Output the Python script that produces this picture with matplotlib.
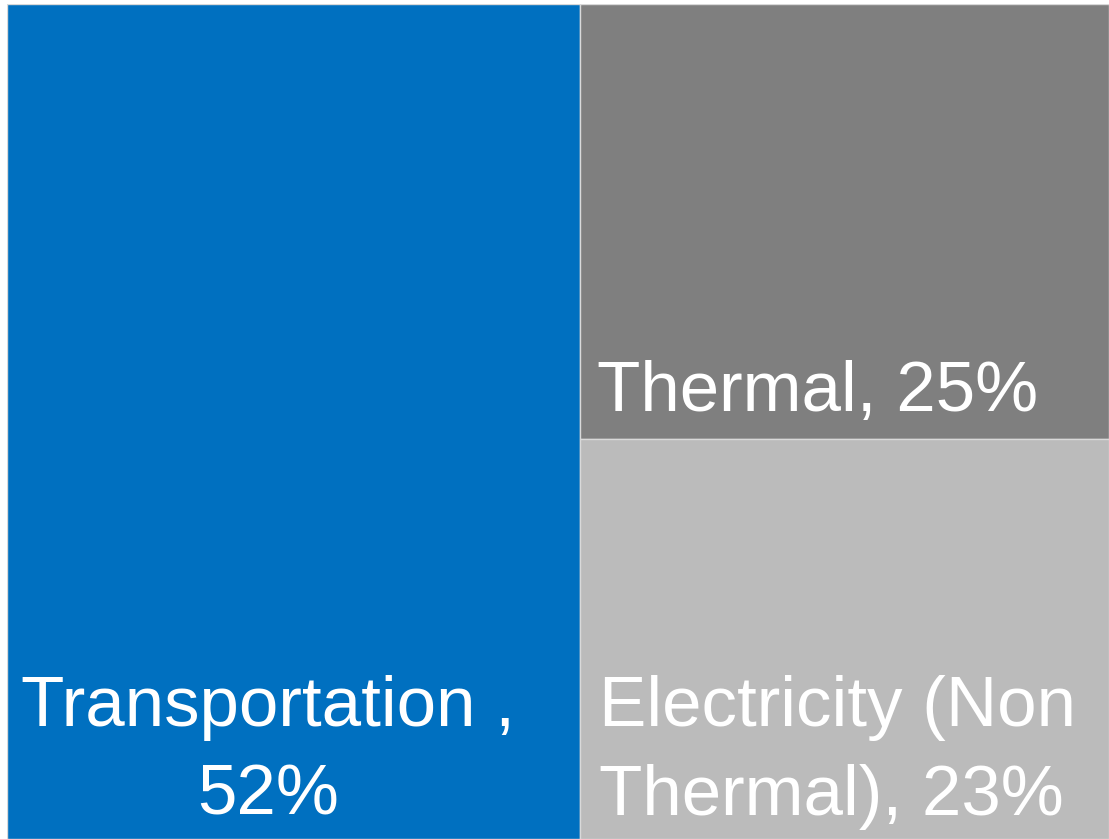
import matplotlib
matplotlib.use("Agg")
import matplotlib.pyplot as plt
from matplotlib.patches import Rectangle

labels = ["Transportation ,\n52%", "Thermal, 25%", "Electricity (Non\nThermal), 23%"]
values = [52, 25, 23]
colors = ["#0070C0", "#7F7F7F", "#BBBBBB"]

fig = plt.figure(figsize=(11.09, 8.39), dpi=100)
ax = fig.add_axes([7 / 1109, 0, 1102 / 1109, 835 / 839])
ax.set_xlim(0, 1)
ax.set_ylim(0, 1)
ax.axis("off")

total = sum(values)
w0 = values[0] / total
rects = [(0, 0, w0, 1)]
rest = values[1] + values[2]
h1 = values[1] / rest
rects.append((w0, 1 - h1, 1 - w0, h1))
rects.append((w0, 0, 1 - w0, 1 - h1))

for (x, y, w, h), c in zip(rects, colors):
    ax.add_patch(Rectangle((x, y), w, h, facecolor=c, edgecolor="#D9D9D9", linewidth=1))

font = dict(color="white", fontsize=51, family=["Liberation Sans", "DejaVu Sans"],
            linespacing=1.45)
x, y, w, h = rects[0]
ax.text(0.237, y + 0.011, labels[0], ha="center", va="bottom", multialignment="center", **font)
x, y, w, h = rects[1]
ax.text(x + 0.015, y + 0.016, labels[1], ha="left", va="bottom", **font)
x, y, w, h = rects[2]
ax.text(x + 0.017, y + 0.011, labels[2], ha="left", va="bottom", multialignment="left", **font)

fig.savefig("out.png", dpi=100)
